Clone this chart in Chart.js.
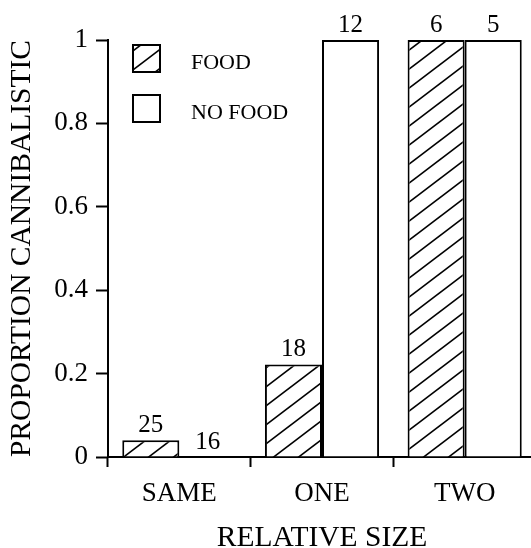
<!DOCTYPE html>
<html>
<head>
<meta charset="utf-8">
<script src="https://cdn.jsdelivr.net/npm/chart.js@4"></script>
<style>
html,body{margin:0;padding:0;background:#fff;overflow:hidden;width:531px;height:548px;}
canvas{display:block;}
</style>
</head>
<body>
<canvas id="c" width="536" height="548"></canvas>
<script>
// ---- data ----
const categories = ["SAME", "ONE", "TWO"];
const seriesNames = ["FOOD", "NO FOOD"];
const foodValues = [0.04, 0.222, 1.0];
const noFoodValues = [0.0, 1.0, 1.0];
const foodCounts = [25, 18, 6];
const noFoodCounts = [16, 12, 5];
const yTickValues = [0, 0.2, 0.4, 0.6, 0.8, 1];
const yTickLabels = ["0", "0.2", "0.4", "0.6", "0.8", "1"];
const xTitle = "RELATIVE SIZE";
const yTitle = "PROPORTION CANNIBALISTIC";

const SERIF = "'Liberation Serif', 'Times New Roman', serif";

// hatch pattern "/"
function makeHatch() {
  const W = 25, H = 19;
  const t = document.createElement('canvas');
  t.width = W; t.height = H;
  const g = t.getContext('2d');
  g.fillStyle = '#fff';
  g.fillRect(0, 0, W, H);
  g.strokeStyle = '#000';
  g.lineWidth = 1.6;
  for (let k = -1; k <= 1; k++) {
    g.beginPath();
    g.moveTo(-2, H + k * H + 2 * H / W);
    g.lineTo(W + 2, k * H - 2 * H / W);
    g.stroke();
  }
  return document.getElementById('c').getContext('2d').createPattern(t, 'repeat');
}
const hatch = makeHatch();

const countsByDataset = [foodCounts, noFoodCounts];

const labelPlugin = {
  id: 'barCounts',
  afterDatasetsDraw(chart) {
    const ctx = chart.ctx;
    ctx.save();
    ctx.fillStyle = '#000';
    ctx.font = "25px " + SERIF;
    ctx.textAlign = 'center';
    ctx.textBaseline = 'alphabetic';
    chart.data.datasets.forEach((ds, di) => {
      const meta = chart.getDatasetMeta(di);
      meta.data.forEach((el, i) => {
        ctx.fillText(String(countsByDataset[di][i]), el.x, el.y - 8);
      });
    });
    ctx.restore();
  }
};

const legendPlugin = {
  id: 'insideLegend',
  afterDraw(chart) {
    const ctx = chart.ctx;
    ctx.save();
    const bx = 133, by0 = 45, bw = 27, bh = 27, gap = 50;
    chart.data.datasets.forEach((ds, di) => {
      const y = by0 + di * gap;
      ctx.fillStyle = ds.backgroundColor;
      ctx.fillRect(bx, y, bw, bh);
      ctx.strokeStyle = '#000';
      ctx.lineWidth = 2;
      ctx.strokeRect(bx, y, bw, bh);
      ctx.fillStyle = '#000';
      ctx.font = "22px " + SERIF;
      ctx.textAlign = 'left';
      ctx.textBaseline = 'middle';
      ctx.fillText(ds.label, 191, y + bh / 2 + 5);
    });
    ctx.restore();
  }
};

new Chart(document.getElementById('c'), {
  type: 'bar',
  data: {
    labels: categories,
    datasets: [
      {
        label: seriesNames[0],
        data: foodValues,
        backgroundColor: hatch,
        borderColor: '#000',
        borderWidth: 2,
        borderSkipped: 'bottom',
        barPercentage: 1.0,
        categoryPercentage: 0.80
      },
      {
        label: seriesNames[1],
        data: noFoodValues,
        backgroundColor: '#fff',
        borderColor: '#000',
        borderWidth: 2,
        borderSkipped: 'bottom',
        barPercentage: 1.0,
        categoryPercentage: 0.80
      }
    ]
  },
  options: {
    responsive: false,
    animation: false,
    devicePixelRatio: 1,
    layout: { padding: { top: 40, right: 0, left: 0, bottom: 0 } },
    plugins: {
      legend: { display: false },
      tooltip: { enabled: false }
    },
    scales: {
      x: {
        offset: true,
        grid: {
          display: true,
          offset: true,
          drawOnChartArea: false,
          drawTicks: true,
          tickLength: 10,
          tickWidth: 2,
          tickColor: '#000'
        },
        border: { display: true, color: '#000', width: 2 },
        ticks: {
          color: '#000',
          font: { family: SERIF, size: 27 },
          padding: 11,
          maxRotation: 0
        },
        title: {
          display: true,
          text: xTitle,
          color: '#000',
          font: { family: SERIF, size: 29.5, lineHeight: 0.68 },
          padding: { top: 0, bottom: 0 }
        },
        afterFit(scale) { scale.height = 91; }
      },
      y: {
        min: 0,
        max: 1,
        afterBuildTicks(scale) {
          scale.ticks = yTickValues.map(v => ({ value: v }));
        },
        grid: {
          display: true,
          drawOnChartArea: false,
          drawTicks: true,
          tickLength: 12,
          tickWidth: 2,
          tickColor: '#000'
        },
        border: { display: true, color: '#000', width: 2 },
        ticks: {
          color: '#000',
          font: { family: SERIF, size: 27 },
          padding: 8,
          callback(value, index) { return yTickLabels[index]; }
        },
        title: {
          display: true,
          text: yTitle,
          color: '#000',
          font: { family: SERIF, size: 29.5, lineHeight: 1.2 },
          padding: { top: 5, bottom: 0 }
        },
        afterFit(scale) { scale.width = 108; }
      }
    }
  },
  plugins: [labelPlugin, legendPlugin]
});
</script>
</body>
</html>
